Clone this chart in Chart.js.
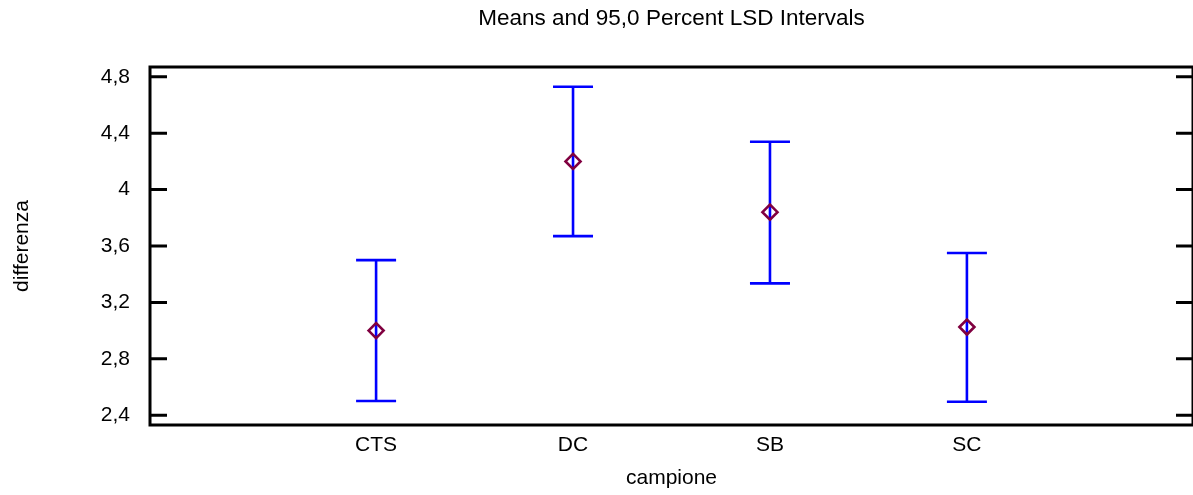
<!DOCTYPE html>
<html lang="it">
<head>
<meta charset="UTF-8">
<title>Means and 95,0 Percent LSD Intervals</title>
<script src="https://cdn.jsdelivr.net/npm/chart.js"></script>
<style>
  html, body { margin: 0; padding: 0; background: #fff; overflow: hidden; }
  canvas { display: block; }
</style>
</head>
<body>
<canvas id="lsdChart" width="1193" height="495"></canvas>

<script>
// dati
const campioni = ['CTS', 'DC', 'SB', 'SC'];
const medie    = [3.00, 4.20, 3.84, 3.025];
const limSup   = [3.50, 4.73, 4.34, 3.55];
const limInf   = [2.50, 3.67, 3.335, 2.495];
const yTicks   = [2.4, 2.8, 3.2, 3.6, 4.0, 4.4, 4.8];

const FONT = '"Liberation Sans", Arial, sans-serif';
const fmt = v => String(Math.round(v * 10) / 10).replace('.', ',');

// barre di errore, cornice, tacche e titolo
const lsdPlugin = {
    id: 'lsd',
    beforeDatasetsDraw(chart) {
        const {ctx, scales: {x, y}} = chart;
        ctx.save();
        ctx.strokeStyle = '#0000ff';
        ctx.lineWidth = 2.6;
        campioni.forEach((c, i) => {
            const px = x.getPixelForValue(i + 1);
            const top = y.getPixelForValue(limSup[i]);
            const bot = y.getPixelForValue(limInf[i]);
            ctx.beginPath();
            ctx.moveTo(px, top); ctx.lineTo(px, bot);
            ctx.moveTo(px - 20, top); ctx.lineTo(px + 20, top);
            ctx.moveTo(px - 20, bot); ctx.lineTo(px + 20, bot);
            ctx.stroke();
        });
        ctx.restore();
    },
    afterDraw(chart) {
        const {ctx, chartArea: a, scales: {y}} = chart;
        ctx.save();
        ctx.strokeStyle = '#000';
        ctx.lineWidth = 3;
        ctx.strokeRect(a.left, a.top, a.right - a.left, a.bottom - a.top);
        ctx.beginPath();
        yTicks.forEach(v => {
            const py = y.getPixelForValue(v);
            ctx.moveTo(a.left, py); ctx.lineTo(a.left + 17, py);
            ctx.moveTo(a.right - 17, py); ctx.lineTo(a.right, py);
        });
        ctx.stroke();
        ctx.fillStyle = '#000';
        ctx.font = '22.5px ' + FONT;
        ctx.textAlign = 'center';
        ctx.textBaseline = 'middle';
        ctx.fillText('Means and 95,0 Percent LSD Intervals', (a.left + a.right) / 2, 19);
        ctx.restore();
    }
};

new Chart(document.getElementById('lsdChart'), {
    type: 'scatter',
    data: {
        datasets: [{
            data: campioni.map((c, i) => ({x: i + 1, y: medie[i]})),
            pointStyle: 'rectRot',
            pointRadius: 7.5,
            pointHoverRadius: 7.5,
            pointBorderWidth: 2.6,
            pointBorderColor: '#800040',
            pointBackgroundColor: 'rgba(0,0,0,0)'
        }]
    },
    options: {
        responsive: false,
        animation: false,
        // il bordo destro del riquadro cade appena fuori dall'immagine
        layout: { autoPadding: false, padding: { top: 67, right: -4, left: 0, bottom: 0 } },
        plugins: {
            legend: { display: false },
            tooltip: { enabled: false }
        },
        scales: {
            x: {
                type: 'linear',
                min: -0.148,
                max: 5.148,
                afterBuildTicks: s => { s.ticks = campioni.map((c, i) => ({value: i + 1})); },
                afterFit: s => { s.height = 70; },
                grid: { display: false, drawTicks: false, tickLength: 0 },
                border: { display: false },
                ticks: {
                    padding: 8,
                    color: '#000',
                    font: { family: FONT, size: 21 },
                    maxRotation: 0,
                    callback: v => campioni[v - 1]
                },
                title: {
                    display: true,
                    text: 'campione',
                    color: '#000',
                    font: { family: FONT, size: 21 },
                    padding: { top: 0, bottom: 4 }
                }
            },
            y: {
                min: 2.33,
                max: 4.87,
                afterBuildTicks: s => { s.ticks = yTicks.map(v => ({value: v})); },
                afterFit: s => { s.width = 150; },
                grid: { display: false, drawTicks: false, tickLength: 0 },
                border: { display: false },
                ticks: {
                    padding: 20,
                    color: '#000',
                    font: { family: FONT, size: 21 },
                    callback: v => fmt(v)
                },
                title: {
                    display: true,
                    text: 'differenza',
                    color: '#000',
                    font: { family: FONT, size: 21 },
                    padding: { top: 10, bottom: 0 }
                }
            }
        }
    },
    plugins: [lsdPlugin]
});
</script>
</body>
</html>
